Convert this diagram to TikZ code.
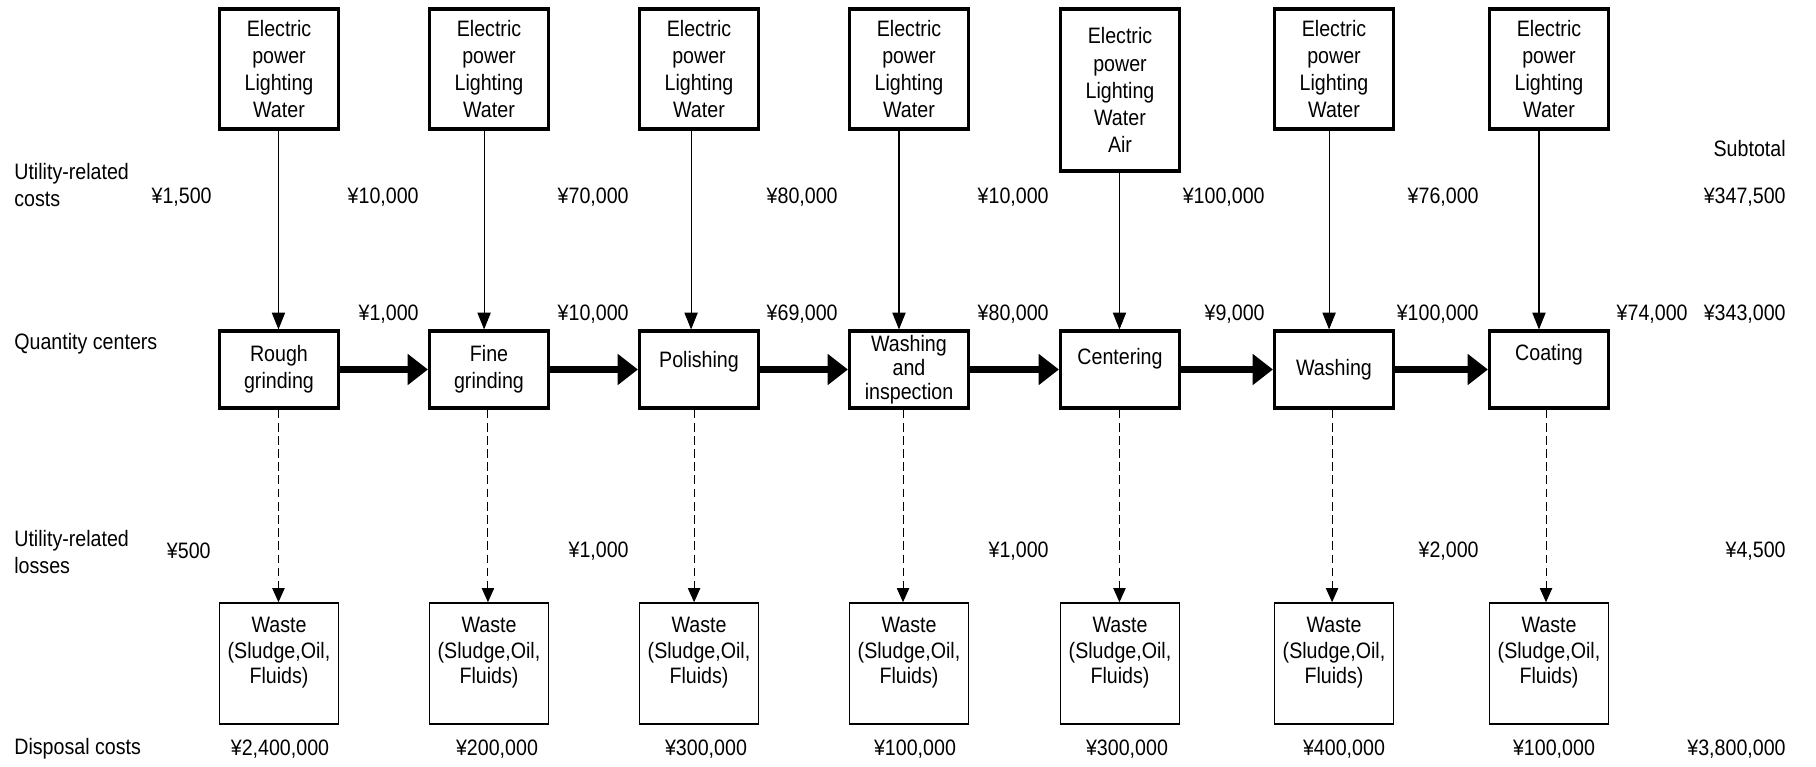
\documentclass[tikz,border=0pt]{standalone}
\usepackage{fontspec}
\setmainfont{Liberation Sans}[FakeStretch=0.88]
\usetikzlibrary{arrows.meta}

\tikzset{
  txt/.style={font=\fontsize{12.7pt}{15.4pt}\selectfont},
  srcbox/.style={txt,rectangle,draw,line width=1.8pt,minimum width=2.38cm,minimum height=2.4cm,align=center,inner sep=0pt},
  procbox/.style={txt,rectangle,draw,line width=1.8pt,minimum width=2.38cm,minimum height=1.54cm,align=center,inner sep=0pt},
  wastebox/.style={rectangle,draw,line width=0.9pt,minimum width=2.38cm,minimum height=2.42cm,align=center,inner sep=0pt,
    font=\fontsize{12.7pt}{14.5pt}\selectfont},
  rowlabel/.style={txt,anchor=west,align=left,inner sep=0pt},
  cost/.style={txt,anchor=east,inner sep=0pt},
  disp/.style={txt,inner sep=0pt},
  feed/.style={line width=0.6pt,-{Triangle[length=9.5pt,width=7.5pt]}},
  loss/.style={line width=0.6pt,dash pattern=on 5pt off 2.5pt,-{Triangle[length=8pt,width=7pt]}},
  flow/.style={line width=3.8pt,-{Triangle[length=11.5pt,width=17pt]}}
}

\begin{document}
\begin{tikzpicture}[x=0.02cm,y=-0.02cm]
    \useasboundingbox (0,0) rectangle (1816,767);
    % utility boxes
    \node (src1) at (279,69) [srcbox] {Electric\\power\\Lighting\\Water};
    \node (src2) at (489,69) [srcbox] {Electric\\power\\Lighting\\Water};
    \node (src3) at (699,69) [srcbox] {Electric\\power\\Lighting\\Water};
    \node (src4) at (909,69) [srcbox] {Electric\\power\\Lighting\\Water};
    \node (src5) at (1120,90) [srcbox,minimum height=3.24cm] {Electric\\power\\Lighting\\Water\\Air};
    \node (src6) at (1334,69) [srcbox] {Electric\\power\\Lighting\\Water};
    \node (src7) at (1549,69) [srcbox] {Electric\\power\\Lighting\\Water};
    % quantity centers
    \node (proc1) at (279,369.5) [procbox] {Rough\\grinding};
    \node (proc2) at (489,369.5) [procbox] {Fine\\grinding};
    \node (proc3) at (699,369.5) [procbox] {Polishing\\[-4pt]\mbox{}};
    \node (proc4) at (909,369.5) [procbox,font=\fontsize{12.7pt}{13.6pt}\selectfont] {Washing\\and\\inspection};
    \node (proc5) at (1120,369.5) [procbox] {Centering\\[-1pt]\mbox{}};
    \node (proc6) at (1334,369.5) [procbox] {Washing};
    \node (proc7) at (1549,369.5) [procbox] {Coating\\[4pt]\mbox{}};
    % waste boxes
    \node (waste1) at (279,663.5) [wastebox] {Waste\\(Sludge,Oil,\\Fluids)\\ \mbox{}};
    \node (waste2) at (489,663.5) [wastebox] {Waste\\(Sludge,Oil,\\Fluids)\\ \mbox{}};
    \node (waste3) at (699,663.5) [wastebox] {Waste\\(Sludge,Oil,\\Fluids)\\ \mbox{}};
    \node (waste4) at (909,663.5) [wastebox] {Waste\\(Sludge,Oil,\\Fluids)\\ \mbox{}};
    \node (waste5) at (1120,663.5) [wastebox] {Waste\\(Sludge,Oil,\\Fluids)\\ \mbox{}};
    \node (waste6) at (1334,663.5) [wastebox] {Waste\\(Sludge,Oil,\\Fluids)\\ \mbox{}};
    \node (waste7) at (1549,663.5) [wastebox] {Waste\\(Sludge,Oil,\\Fluids)\\ \mbox{}};
    % row labels
    \node (lcost) at (14,185) [rowlabel] {Utility-related\\costs};
    \node (lqty) at (14,344) [rowlabel] {Quantity centers};
    \node (lloss) at (14,552) [rowlabel] {Utility-related\\losses};
    \node (ldisp) at (14,749) [rowlabel] {Disposal costs};
    \node (lsub) at (1786,149) [cost] {Subtotal};
    % utility-related costs
    \node (c1) at (212,197) [cost] {¥1,500};
    \node (c2) at (419,197) [cost] {¥10,000};
    \node (c3) at (629,197) [cost] {¥70,000};
    \node (c4) at (838,197) [cost] {¥80,000};
    \node (c5) at (1049,197) [cost] {¥10,000};
    \node (c6) at (1265,197) [cost] {¥100,000};
    \node (c7) at (1479,197) [cost] {¥76,000};
    \node (c8) at (1786,197) [cost] {¥347,500};
    % quantity center costs
    \node (q1) at (419,314) [cost] {¥1,000};
    \node (q2) at (629,314) [cost] {¥10,000};
    \node (q3) at (838,314) [cost] {¥69,000};
    \node (q4) at (1049,314) [cost] {¥80,000};
    \node (q5) at (1265,314) [cost] {¥9,000};
    \node (q6) at (1479,314) [cost] {¥100,000};
    \node (q7) at (1688,314) [cost] {¥74,000};
    \node (q8) at (1786,314) [cost] {¥343,000};
    % utility-related losses
    \node (u1) at (211,551) [cost] {¥500};
    \node (u2) at (629,551) [cost] {¥1,000};
    \node (u3) at (1049,551) [cost] {¥1,000};
    \node (u4) at (1479,551) [cost] {¥2,000};
    \node (u5) at (1786,551) [cost] {¥4,500};
    % disposal costs
    \node (d1) at (280,749) [disp] {¥2,400,000};
    \node (d2) at (497,749) [disp] {¥200,000};
    \node (d3) at (706,749) [disp] {¥300,000};
    \node (d4) at (915,749) [disp] {¥100,000};
    \node (d5) at (1127,749) [disp] {¥300,000};
    \node (d6) at (1344,749) [disp] {¥400,000};
    \node (d7) at (1554,749) [disp] {¥100,000};
    \node (d8) at (1786,749) [cost] {¥3,800,000};
    % paths
    \draw[feed] ([xshift=-0.3pt]src1.south) -- ([xshift=-0.3pt]proc1.north);
    \draw[feed] ([xshift=-2.8pt]src2.south) -- ([xshift=-2.8pt]proc2.north);
    \draw[feed] ([xshift=-4.5pt]src3.south) -- ([xshift=-4.5pt]proc3.north);
    \draw[feed] ([xshift=-5.7pt]src4.south) -- ([xshift=-5.7pt]proc4.north);
    \draw[feed] ([xshift=-0.3pt]src5.south) -- ([xshift=-0.3pt]proc5.north);
    \draw[feed] ([xshift=-2.8pt]src6.south) -- ([xshift=-2.8pt]proc6.north);
    \draw[feed] ([xshift=-5.7pt]src7.south) -- ([xshift=-5.7pt]proc7.north);
    \draw[flow] (proc1) -- (proc2);
    \draw[flow] (proc2) -- (proc3);
    \draw[flow] (proc3) -- (proc4);
    \draw[flow] (proc4) -- (proc5);
    \draw[flow] (proc5) -- (proc6);
    \draw[flow] (proc6) -- (proc7);
    \draw[loss] ([xshift=-0.3pt]proc1.south) -- ([xshift=-0.3pt]waste1.north);
    \draw[loss] ([xshift=-0.6pt]proc2.south) -- ([xshift=-0.6pt]waste2.north);
    \draw[loss] ([xshift=-2.8pt]proc3.south) -- ([xshift=-2.8pt]waste3.north);
    \draw[loss] ([xshift=-3.4pt]proc4.south) -- ([xshift=-3.4pt]waste4.north);
    \draw[loss] ([xshift=-0.3pt]proc5.south) -- ([xshift=-0.3pt]waste5.north);
    \draw[loss] ([xshift=-1.1pt]proc6.south) -- ([xshift=-1.1pt]waste6.north);
    \draw[loss] ([xshift=-1.7pt]proc7.south) -- ([xshift=-1.7pt]waste7.north);
\end{tikzpicture}
\end{document}
